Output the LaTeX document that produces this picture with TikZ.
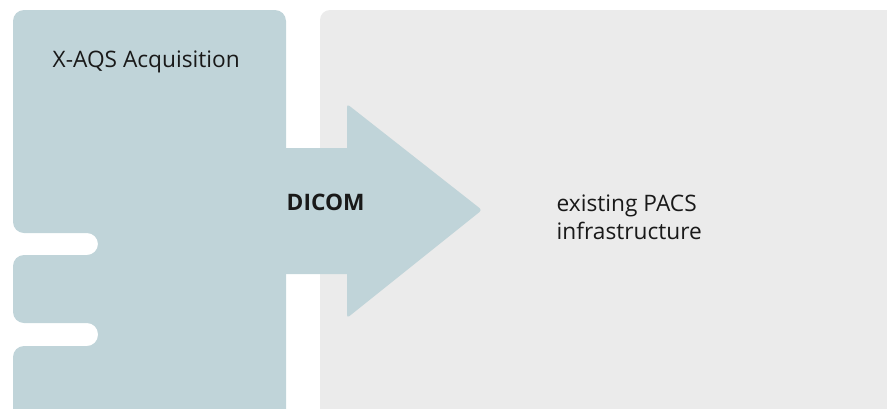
\documentclass[tikz,border=0pt]{standalone}
\usepackage{fontspec}
\setmainfont{Open Sans}
\definecolor{acqblue}{RGB}{192,212,217}
\definecolor{pacsgray}{RGB}{235,235,235}
\definecolor{txt}{RGB}{25,25,25}
\tikzset{
  lbl/.style={anchor=base west, inner sep=0pt, text=txt, font=\fontsize{22.7}{28.5}\selectfont},
}
\begin{document}
\begin{tikzpicture}[x=1pt,y=-1pt]
\useasboundingbox (0,0) rectangle (887,408);
\clip (0,0) rectangle (887,408);
% PACS box
\fill[pacsgray, rounded corners=10pt] (320,10) -- (900,10) -- (900,430) -- (320,430) -- cycle;
% acquisition block
\fill[acqblue, rounded corners=11pt] (13,430) -- (13,346) -- (98,346) -- (98,323) -- (13,323)
  -- (13,255) -- (98,255) -- (98,233) -- (13,233) -- (13,10) -- (286,10) -- (286,430) -- cycle;
% arrow
\fill[acqblue] (280,148) -- (347,148)
  [rounded corners=3pt] -- (347,104) -- (482,210) -- (347,318) [sharp corners] -- (347,274) -- (280,274) -- cycle;
\node[lbl] (acq) at (52.5,67) {X-AQS Acquisition};
\node[lbl, font=\fontsize{22.7}{28.5}\selectfont\bfseries] (dicom) at (286.5,210) {DICOM};
\node[lbl, align=left, anchor=north west] (pacs) at (556.5,194.2) {existing PACS\\infrastructure};
\end{tikzpicture}
\end{document}
